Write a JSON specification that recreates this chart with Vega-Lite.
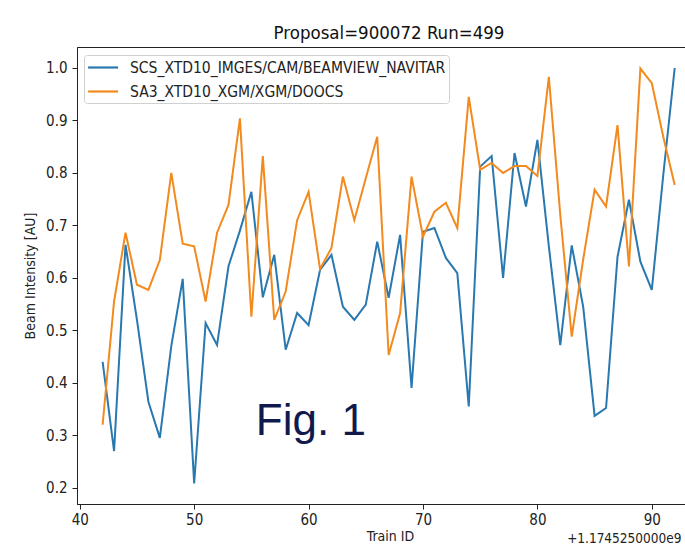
{
  "$schema": "https://vega.github.io/schema/vega-lite/v6.json",
  "width": 608,
  "height": 457,
  "autosize": {"type": "none"},
  "padding": {"left": 77, "top": 47, "right": 0, "bottom": 42},
  "background": "white",
  "title": {"text": "Proposal=900072 Run=499", "fontSize": 18.5, "fontWeight": "normal", "font": "DejaVu Sans Condensed, DejaVu Sans", "color": "#111", "offset": 5, "dx": 8},
  "config": {
    "view": {"stroke": "#222", "strokeWidth": 1},
    "axis": {"grid": false, "domainColor": "#222", "tickColor": "#222", "tickSize": 5, "labelFont": "DejaVu Sans Condensed, DejaVu Sans", "labelFontSize": 15, "labelColor": "#222", "titleFont": "DejaVu Sans Condensed, DejaVu Sans", "titleFontSize": 14, "titleFontWeight": "normal", "titleColor": "#222"}
  },
  "datasets": {
    "series": [
      {"id":42,"s":"SCS_XTD10_IMGES/CAM/BEAMVIEW_NAVITAR","v":0.44},
      {"id":43,"s":"SCS_XTD10_IMGES/CAM/BEAMVIEW_NAVITAR","v":0.27},
      {"id":44,"s":"SCS_XTD10_IMGES/CAM/BEAMVIEW_NAVITAR","v":0.663},
      {"id":45,"s":"SCS_XTD10_IMGES/CAM/BEAMVIEW_NAVITAR","v":0.52},
      {"id":46,"s":"SCS_XTD10_IMGES/CAM/BEAMVIEW_NAVITAR","v":0.364},
      {"id":47,"s":"SCS_XTD10_IMGES/CAM/BEAMVIEW_NAVITAR","v":0.295},
      {"id":48,"s":"SCS_XTD10_IMGES/CAM/BEAMVIEW_NAVITAR","v":0.47},
      {"id":49,"s":"SCS_XTD10_IMGES/CAM/BEAMVIEW_NAVITAR","v":0.598},
      {"id":50,"s":"SCS_XTD10_IMGES/CAM/BEAMVIEW_NAVITAR","v":0.208},
      {"id":51,"s":"SCS_XTD10_IMGES/CAM/BEAMVIEW_NAVITAR","v":0.514},
      {"id":52,"s":"SCS_XTD10_IMGES/CAM/BEAMVIEW_NAVITAR","v":0.472},
      {"id":53,"s":"SCS_XTD10_IMGES/CAM/BEAMVIEW_NAVITAR","v":0.622},
      {"id":54,"s":"SCS_XTD10_IMGES/CAM/BEAMVIEW_NAVITAR","v":0.69},
      {"id":55,"s":"SCS_XTD10_IMGES/CAM/BEAMVIEW_NAVITAR","v":0.764},
      {"id":56,"s":"SCS_XTD10_IMGES/CAM/BEAMVIEW_NAVITAR","v":0.563},
      {"id":57,"s":"SCS_XTD10_IMGES/CAM/BEAMVIEW_NAVITAR","v":0.644},
      {"id":58,"s":"SCS_XTD10_IMGES/CAM/BEAMVIEW_NAVITAR","v":0.463},
      {"id":59,"s":"SCS_XTD10_IMGES/CAM/BEAMVIEW_NAVITAR","v":0.533},
      {"id":60,"s":"SCS_XTD10_IMGES/CAM/BEAMVIEW_NAVITAR","v":0.51},
      {"id":61,"s":"SCS_XTD10_IMGES/CAM/BEAMVIEW_NAVITAR","v":0.615},
      {"id":62,"s":"SCS_XTD10_IMGES/CAM/BEAMVIEW_NAVITAR","v":0.644},
      {"id":63,"s":"SCS_XTD10_IMGES/CAM/BEAMVIEW_NAVITAR","v":0.545},
      {"id":64,"s":"SCS_XTD10_IMGES/CAM/BEAMVIEW_NAVITAR","v":0.52},
      {"id":65,"s":"SCS_XTD10_IMGES/CAM/BEAMVIEW_NAVITAR","v":0.549},
      {"id":66,"s":"SCS_XTD10_IMGES/CAM/BEAMVIEW_NAVITAR","v":0.669},
      {"id":67,"s":"SCS_XTD10_IMGES/CAM/BEAMVIEW_NAVITAR","v":0.562},
      {"id":68,"s":"SCS_XTD10_IMGES/CAM/BEAMVIEW_NAVITAR","v":0.682},
      {"id":69,"s":"SCS_XTD10_IMGES/CAM/BEAMVIEW_NAVITAR","v":0.39},
      {"id":70,"s":"SCS_XTD10_IMGES/CAM/BEAMVIEW_NAVITAR","v":0.688},
      {"id":71,"s":"SCS_XTD10_IMGES/CAM/BEAMVIEW_NAVITAR","v":0.695},
      {"id":72,"s":"SCS_XTD10_IMGES/CAM/BEAMVIEW_NAVITAR","v":0.638},
      {"id":73,"s":"SCS_XTD10_IMGES/CAM/BEAMVIEW_NAVITAR","v":0.609},
      {"id":74,"s":"SCS_XTD10_IMGES/CAM/BEAMVIEW_NAVITAR","v":0.355},
      {"id":75,"s":"SCS_XTD10_IMGES/CAM/BEAMVIEW_NAVITAR","v":0.812},
      {"id":76,"s":"SCS_XTD10_IMGES/CAM/BEAMVIEW_NAVITAR","v":0.832},
      {"id":77,"s":"SCS_XTD10_IMGES/CAM/BEAMVIEW_NAVITAR","v":0.6},
      {"id":78,"s":"SCS_XTD10_IMGES/CAM/BEAMVIEW_NAVITAR","v":0.838},
      {"id":79,"s":"SCS_XTD10_IMGES/CAM/BEAMVIEW_NAVITAR","v":0.736},
      {"id":80,"s":"SCS_XTD10_IMGES/CAM/BEAMVIEW_NAVITAR","v":0.863},
      {"id":81,"s":"SCS_XTD10_IMGES/CAM/BEAMVIEW_NAVITAR","v":0.66},
      {"id":82,"s":"SCS_XTD10_IMGES/CAM/BEAMVIEW_NAVITAR","v":0.472},
      {"id":83,"s":"SCS_XTD10_IMGES/CAM/BEAMVIEW_NAVITAR","v":0.662},
      {"id":84,"s":"SCS_XTD10_IMGES/CAM/BEAMVIEW_NAVITAR","v":0.545},
      {"id":85,"s":"SCS_XTD10_IMGES/CAM/BEAMVIEW_NAVITAR","v":0.337},
      {"id":86,"s":"SCS_XTD10_IMGES/CAM/BEAMVIEW_NAVITAR","v":0.352},
      {"id":87,"s":"SCS_XTD10_IMGES/CAM/BEAMVIEW_NAVITAR","v":0.64},
      {"id":88,"s":"SCS_XTD10_IMGES/CAM/BEAMVIEW_NAVITAR","v":0.749},
      {"id":89,"s":"SCS_XTD10_IMGES/CAM/BEAMVIEW_NAVITAR","v":0.631},
      {"id":90,"s":"SCS_XTD10_IMGES/CAM/BEAMVIEW_NAVITAR","v":0.577},
      {"id":91,"s":"SCS_XTD10_IMGES/CAM/BEAMVIEW_NAVITAR","v":0.796},
      {"id":92,"s":"SCS_XTD10_IMGES/CAM/BEAMVIEW_NAVITAR","v":1.0},
      {"id":42,"s":"SA3_XTD10_XGM/XGM/DOOCS","v":0.32},
      {"id":43,"s":"SA3_XTD10_XGM/XGM/DOOCS","v":0.555},
      {"id":44,"s":"SA3_XTD10_XGM/XGM/DOOCS","v":0.686},
      {"id":45,"s":"SA3_XTD10_XGM/XGM/DOOCS","v":0.587},
      {"id":46,"s":"SA3_XTD10_XGM/XGM/DOOCS","v":0.577},
      {"id":47,"s":"SA3_XTD10_XGM/XGM/DOOCS","v":0.634},
      {"id":48,"s":"SA3_XTD10_XGM/XGM/DOOCS","v":0.8},
      {"id":49,"s":"SA3_XTD10_XGM/XGM/DOOCS","v":0.665},
      {"id":50,"s":"SA3_XTD10_XGM/XGM/DOOCS","v":0.66},
      {"id":51,"s":"SA3_XTD10_XGM/XGM/DOOCS","v":0.555},
      {"id":52,"s":"SA3_XTD10_XGM/XGM/DOOCS","v":0.686},
      {"id":53,"s":"SA3_XTD10_XGM/XGM/DOOCS","v":0.739},
      {"id":54,"s":"SA3_XTD10_XGM/XGM/DOOCS","v":0.904},
      {"id":55,"s":"SA3_XTD10_XGM/XGM/DOOCS","v":0.526},
      {"id":56,"s":"SA3_XTD10_XGM/XGM/DOOCS","v":0.832},
      {"id":57,"s":"SA3_XTD10_XGM/XGM/DOOCS","v":0.52},
      {"id":58,"s":"SA3_XTD10_XGM/XGM/DOOCS","v":0.574},
      {"id":59,"s":"SA3_XTD10_XGM/XGM/DOOCS","v":0.71},
      {"id":60,"s":"SA3_XTD10_XGM/XGM/DOOCS","v":0.764},
      {"id":61,"s":"SA3_XTD10_XGM/XGM/DOOCS","v":0.617},
      {"id":62,"s":"SA3_XTD10_XGM/XGM/DOOCS","v":0.657},
      {"id":63,"s":"SA3_XTD10_XGM/XGM/DOOCS","v":0.793},
      {"id":64,"s":"SA3_XTD10_XGM/XGM/DOOCS","v":0.71},
      {"id":65,"s":"SA3_XTD10_XGM/XGM/DOOCS","v":0.79},
      {"id":66,"s":"SA3_XTD10_XGM/XGM/DOOCS","v":0.869},
      {"id":67,"s":"SA3_XTD10_XGM/XGM/DOOCS","v":0.453},
      {"id":68,"s":"SA3_XTD10_XGM/XGM/DOOCS","v":0.533},
      {"id":69,"s":"SA3_XTD10_XGM/XGM/DOOCS","v":0.793},
      {"id":70,"s":"SA3_XTD10_XGM/XGM/DOOCS","v":0.679},
      {"id":71,"s":"SA3_XTD10_XGM/XGM/DOOCS","v":0.726},
      {"id":72,"s":"SA3_XTD10_XGM/XGM/DOOCS","v":0.743},
      {"id":73,"s":"SA3_XTD10_XGM/XGM/DOOCS","v":0.695},
      {"id":74,"s":"SA3_XTD10_XGM/XGM/DOOCS","v":0.945},
      {"id":75,"s":"SA3_XTD10_XGM/XGM/DOOCS","v":0.806},
      {"id":76,"s":"SA3_XTD10_XGM/XGM/DOOCS","v":0.819},
      {"id":77,"s":"SA3_XTD10_XGM/XGM/DOOCS","v":0.8},
      {"id":78,"s":"SA3_XTD10_XGM/XGM/DOOCS","v":0.813},
      {"id":79,"s":"SA3_XTD10_XGM/XGM/DOOCS","v":0.813},
      {"id":80,"s":"SA3_XTD10_XGM/XGM/DOOCS","v":0.794},
      {"id":81,"s":"SA3_XTD10_XGM/XGM/DOOCS","v":0.983},
      {"id":82,"s":"SA3_XTD10_XGM/XGM/DOOCS","v":0.72},
      {"id":83,"s":"SA3_XTD10_XGM/XGM/DOOCS","v":0.488},
      {"id":84,"s":"SA3_XTD10_XGM/XGM/DOOCS","v":0.635},
      {"id":85,"s":"SA3_XTD10_XGM/XGM/DOOCS","v":0.768},
      {"id":86,"s":"SA3_XTD10_XGM/XGM/DOOCS","v":0.736},
      {"id":87,"s":"SA3_XTD10_XGM/XGM/DOOCS","v":0.891},
      {"id":88,"s":"SA3_XTD10_XGM/XGM/DOOCS","v":0.622},
      {"id":89,"s":"SA3_XTD10_XGM/XGM/DOOCS","v":0.999},
      {"id":90,"s":"SA3_XTD10_XGM/XGM/DOOCS","v":0.971},
      {"id":91,"s":"SA3_XTD10_XGM/XGM/DOOCS","v":0.869},
      {"id":92,"s":"SA3_XTD10_XGM/XGM/DOOCS","v":0.777}
    ],
    "notes": [
      {"label": "Fig. 1"}
    ],
    "offset": [
      {"label": "+1.1745250000e9"}
    ]
  },
  "layer": [
    {
      "data": {"name": "series"},
      "mark": {"type": "line", "strokeWidth": 2, "clip": true},
      "encoding": {
        "x": {"field": "id", "type": "quantitative", "scale": {"domain": [39.76, 92.9], "nice": false, "zero": false},
              "axis": {"values": [40, 50, 60, 70, 80, 90], "title": "Train ID", "titleX": 313, "labelPadding": 3, "titlePadding": 2, "titleFontSize": 14}},
        "y": {"field": "v", "type": "quantitative", "scale": {"domain": [0.169, 1.04], "nice": false, "zero": false},
              "axis": {"values": [0.2, 0.3, 0.4, 0.5, 0.6, 0.7, 0.8, 0.9, 1.0], "format": ".1f", "title": "Beam Intensity [AU]", "labelPadding": 5, "titlePadding": 8}},
        "color": {"field": "s", "type": "nominal",
                  "scale": {"domain": ["SCS_XTD10_IMGES/CAM/BEAMVIEW_NAVITAR", "SA3_XTD10_XGM/XGM/DOOCS"], "range": ["#2a78b0", "#f28a1e"]},
                  "legend": {"title": null, "orient": "none", "legendX": 7, "legendY": 8, "symbolType": "M-1.05,0H2.7", "symbolSize": 256, "symbolStrokeWidth": 2.2, "labelFont": "DejaVu Sans Condensed, DejaVu Sans", "labelFontSize": 15.5, "labelColor": "#222", "labelOffset": 24, "labelLimit": 400, "rowPadding": 6, "padding": 3, "fillColor": "rgba(255,255,255,0.85)", "strokeColor": "#d0d0d0", "cornerRadius": 3}}
      }
    },
    {
      "data": {"name": "notes"},
      "mark": {"type": "text", "font": "Liberation Sans", "fontSize": 44, "color": "#111a4d", "align": "center", "baseline": "alphabetic"},
      "encoding": {"x": {"datum": 60.2}, "y": {"datum": 0.301}, "text": {"field": "label"}}
    },
    {
      "data": {"name": "offset"},
      "mark": {"type": "text", "font": "DejaVu Sans Condensed, DejaVu Sans", "fontSize": 13.5, "color": "#222", "align": "left", "baseline": "alphabetic"},
      "encoding": {"x": {"datum": 82.6}, "y": {"datum": 0.095}, "text": {"field": "label"}}
    }
  ]
}
